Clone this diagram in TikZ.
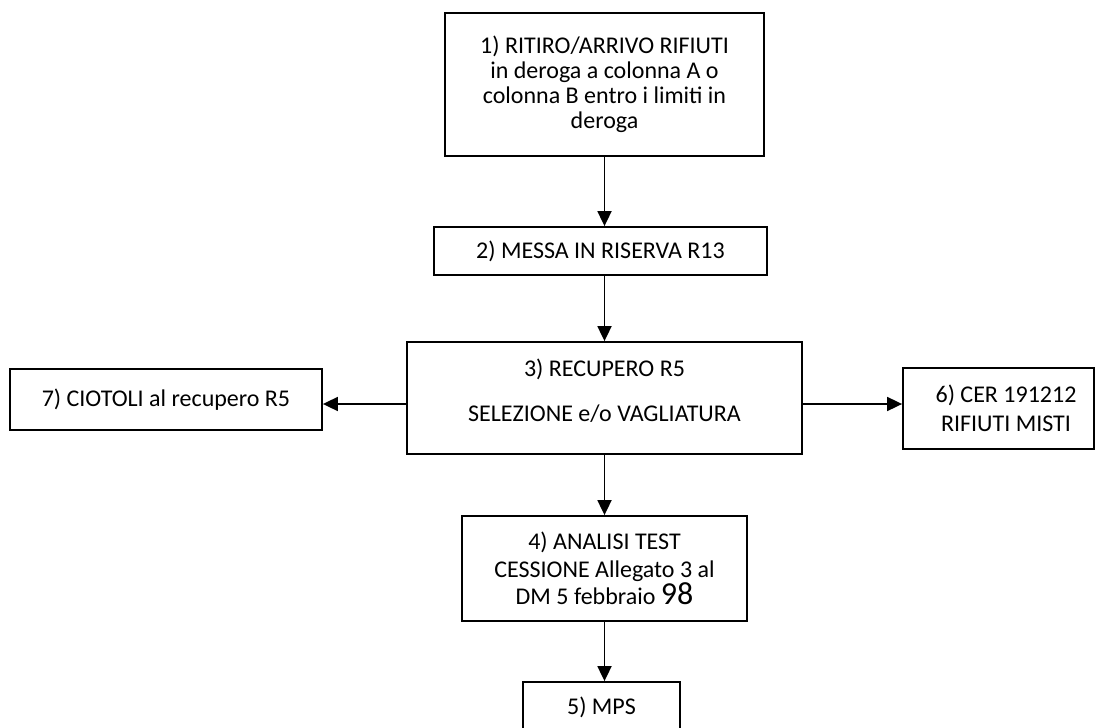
\documentclass[tikz,border=0pt]{standalone}
\usepackage{fontspec}
\setmainfont{Carlito}
\usetikzlibrary{arrows.meta}
\begin{document}
\begin{tikzpicture}[x=1pt,y=-1pt,
  box/.style={draw=black, line width=1.8pt, inner sep=0pt, align=center,
    font=\fontsize{24}{25}\selectfont},
  conn/.style={line width=1.8pt, -{Triangle[length=15pt,width=14pt]}}]
\useasboundingbox (0,0) rectangle (1096,728);
\node[box, minimum width=319pt, minimum height=143pt] (b1) at (604.5,84.5)
  {1) RITIRO/ARRIVO RIFIUTI\\in deroga a colonna A o\\colonna B entro i limiti in\\deroga};
\node[box, minimum width=333pt, minimum height=48pt] (b2) at (600.5,251)
  {2) MESSA IN RISERVA R13};
\node[box, minimum width=395pt, minimum height=112pt] (b3) at (604.5,398)
  {3) RECUPERO R5\\[20pt]SELEZIONE e/o VAGLIATURA\\[-9pt]\mbox{}};
\node[box, minimum width=285pt, minimum height=105pt] (b4) at (604.5,568.5)
  {4) ANALISI TEST\\[3pt]CESSIONE Allegato 3 al\\DM 5 febbraio {\fontsize{32}{25}\selectfont 98}};
\node[box, minimum width=157pt, minimum height=50pt] (b5) at (601.5,707)
  {5) MPS};
\node[box, minimum width=312pt, minimum height=61pt] (b7) at (166,399.5)
  {7) CIOTOLI al recupero R5};
\node[box, minimum width=191pt, minimum height=81pt] (b6) at (998.5,408.5)
  {\hspace*{15pt}6) CER 191212\\[4pt]\hspace*{15pt}RIFIUTI MISTI};
\draw[conn] (b1.south) -- (b1.south |- b2.north);
\draw[conn] (b3.north |- b2.south) -- (b3.north);
\draw[conn] (b3.south) -- (b4.north);
\draw[conn] (b4.south) -- (b4.south |- b5.north);
\draw[conn] ([yshift=-6pt]b3.west) -- ([yshift=-6pt]b3.west -| b7.east);
\draw[conn] ([yshift=-6pt]b3.east) -- ([yshift=-6pt]b3.east -| b6.west);
\end{tikzpicture}
\end{document}
